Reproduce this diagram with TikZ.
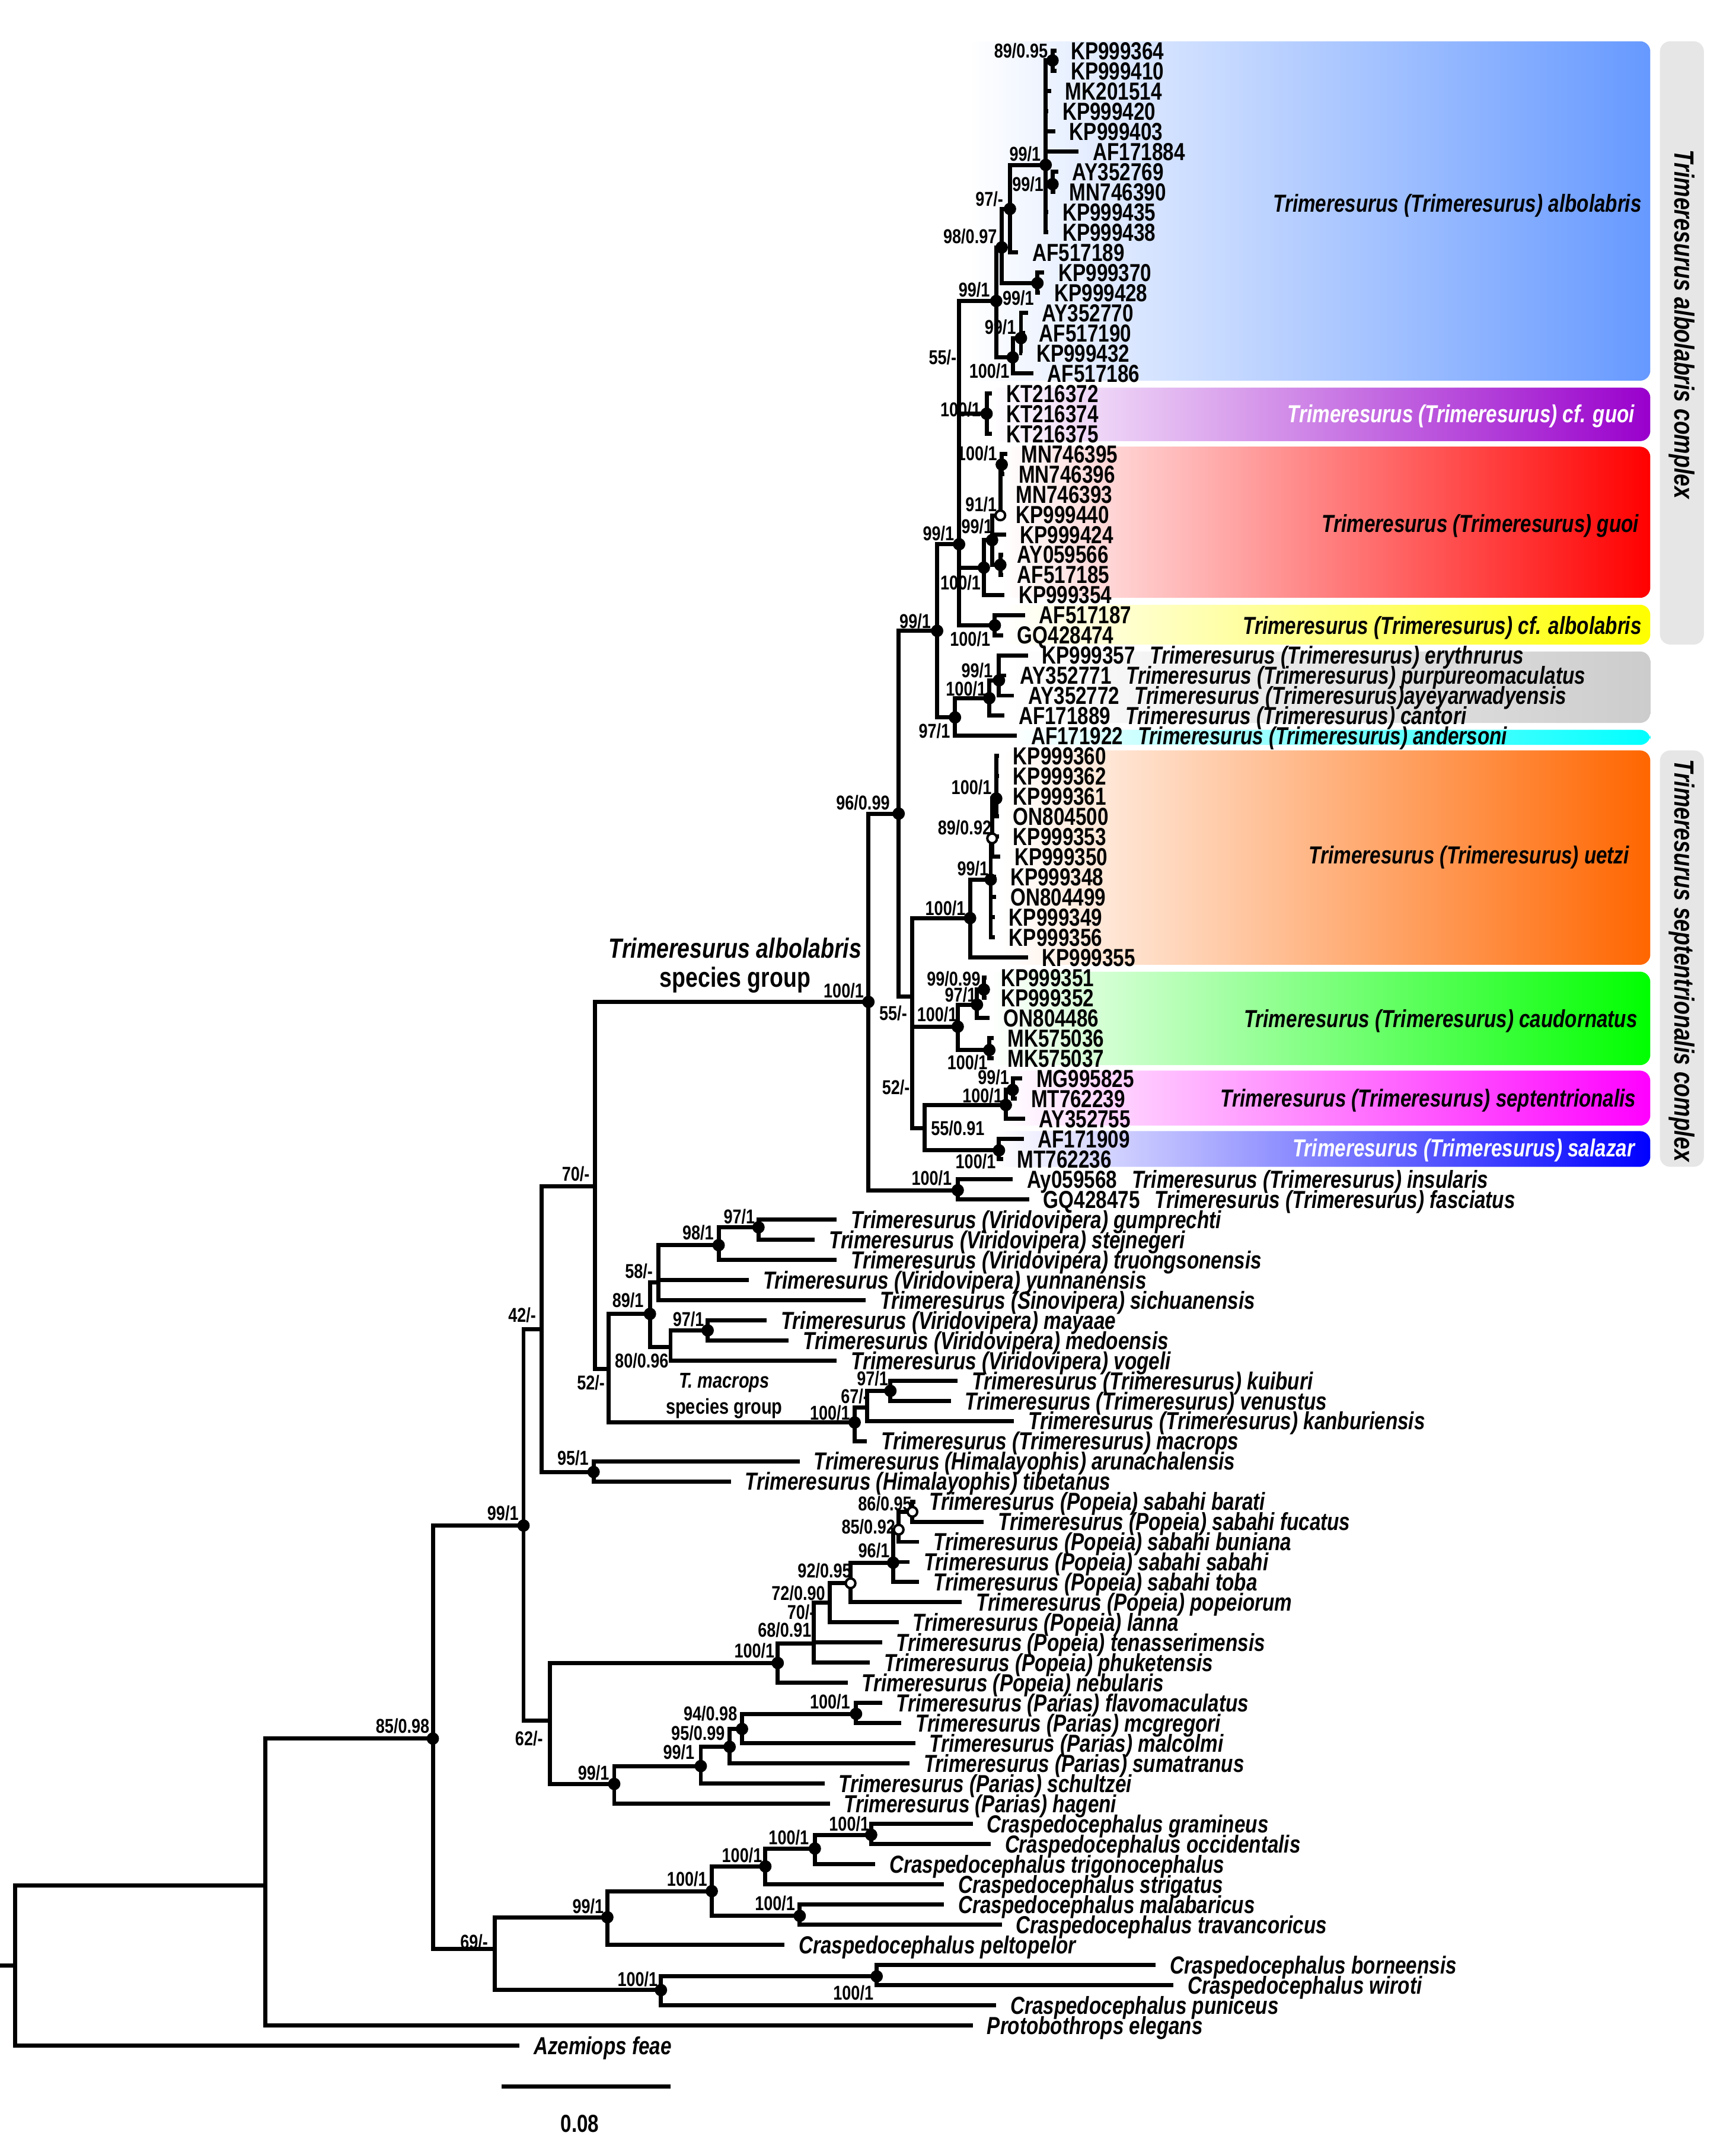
\documentclass[tikz,border=0pt]{standalone}
\usepackage{fontspec}
\setmainfont{Liberation Sans}[FakeStretch=0.80]

\definecolor{albBlue}{HTML}{6699FF}
\definecolor{cfguoiPurple}{HTML}{9900CC}
\definecolor{guoiRed}{HTML}{FF0000}
\definecolor{cfalbYellow}{HTML}{FFFF00}
\definecolor{boxGray}{HTML}{CCCCCC}
\definecolor{andCyan}{HTML}{00FFFF}
\definecolor{uetOrange}{HTML}{FF6600}
\definecolor{cauGreen}{HTML}{00FF00}
\definecolor{sepMagenta}{HTML}{FF00FF}
\definecolor{salBlue}{HTML}{0000FF}
\definecolor{barGray}{HTML}{E6E6E6}

\newcommand\tipsize{\fontsize{10.2}{11}\selectfont\bfseries}
\newcommand\supsize{\fontsize{8.3}{9}\selectfont\bfseries}
\newcommand\bigsize{\fontsize{11.5}{12}\selectfont\bfseries}

\begin{document}
\begin{tikzpicture}[x=0.2mm,y=-0.2mm,
  br/.style={line width=0.6mm},
  acc/.style={anchor=base west,inner sep=0pt,xshift=2mm,yshift=-1.28mm,font=\tipsize},
  spc/.style={acc,font=\tipsize\itshape},
  sup/.style={inner sep=0pt,font=\supsize},
  grp/.style={anchor=base east,inner sep=0pt,yshift=-1.28mm,font=\tipsize\itshape}]
  \useasboundingbox (0,0) rectangle (1263,1568);

  % clade boxes
  \foreach \xa/\ya/\yb/\col in {705/30/277/albBlue,720/282/321/cfguoiPurple,
    730/325/435/guoiRed,730/440/469/cfalbYellow,735/474/526/boxGray,
    735/531/542/andCyan,730/546/702/uetOrange,720/707/775/cauGreen,
    730/779/819/sepMagenta,725/823/849/salBlue}
    \shade[left color=white,right color=\col,rounded corners=1.5mm] (\xa,\ya) rectangle (1201,\yb);
  \fill[barGray,rounded corners=1.5mm] (1208,30) rectangle (1240,469);
  \fill[barGray,rounded corners=1.5mm] (1208,546) rectangle (1240,849);
  \node[rotate=-90,font=\bigsize\itshape] (cxAlb) at (1224,236) {Trimeresurus albolabris complex};
  \node[rotate=-90,font=\bigsize\itshape] (cxSep) at (1224,699) {Trimeresurus septentrionalis complex};

  % tips
  \foreach[evaluate=\r as \yy using {37+14.66*(\r-1)}] \r/\xe/\txt in {
    1/769/KP999364,2/769/KP999410,3/765/MK201514,4/763/KP999420,5/768/KP999403,
    6/785/AF171884,7/770/AY352769,8/768/MN746390,9/763/KP999435,10/763/KP999438,
    11/741/AF517189,12/760/KP999370,13/757/KP999428,14/748/AY352770,15/746/AF517190,
    16/744/KP999432,17/752/AF517186,18/722/KT216372,19/722/KT216374,20/722/KT216375,
    21/733/MN746395,22/731/MN746396,23/729/MN746393,24/729/KP999440,25/732/KP999424,
    26/730/AY059566,27/730/AF517185,28/731/KP999354,29/746/AF517187,30/730/GQ428474,
    36/727/KP999360,37/727/KP999362,38/727/KP999361,39/727/ON804500,40/727/KP999353,
    41/728/KP999350,42/725/KP999348,43/725/ON804499,44/724/KP999349,45/724/KP999356,
    46/748/KP999355,47/718/KP999351,48/718/KP999352,49/720/ON804486,50/723/MK575036,
    51/723/MK575037,52/744/MG995825,53/740/MT762239,54/746/AY352755,55/745/AF171909,
    56/730/MT762236}
  { \coordinate (t\r) at (\xe,\yy);
    \node[acc] (l\r) at (t\r) {\txt}; }
  \foreach[evaluate=\r as \yy using {37+14.66*(\r-1)}] \r/\xe/\acn/\sp in {
    31/748/KP999357/{Trimeresurus (Trimeresurus) erythrurus},
    32/732/AY352771/{Trimeresurus (Trimeresurus) purpureomaculatus},
    33/738/AY352772/{Trimeresurus (Trimeresurus)ayeyarwadyensis},
    34/731/AF171889/{Trimeresurus (Trimeresurus) cantori},
    35/740/AF171922/{Trimeresurus (Trimeresurus) andersoni},
    57/737/Ay059568/{Trimeresurus (Trimeresurus) insularis},
    58/749/GQ428475/{Trimeresurus (Trimeresurus) fasciatus}}
  { \coordinate (t\r) at (\xe,\yy);
    \node[acc] (l\r) at (t\r) {\acn\hspace{0.6em}\textit{\sp}}; }
  \foreach[evaluate=\r as \yy using {37+14.66*(\r-1)}] \r/\xe/\txt in {
    59/609/{Trimeresurus (Viridovipera) gumprechti},
    60/593/{Trimeresurus (Viridovipera) stejnegeri},
    61/609/{Trimeresurus (Viridovipera) truongsonensis},
    62/545/{Trimeresurus (Viridovipera) yunnanensis},
    63/630/{Trimeresurus (Sinovipera) sichuanensis},
    64/558/{Trimeresurus (Viridovipera) mayaae},
    65/574/{Trimeresurus (Viridovipera) medoensis},
    66/609/{Trimeresurus (Viridovipera) vogeli},
    67/697/{Trimeresurus (Trimeresurus) kuiburi},
    68/692/{Trimeresurus (Trimeresurus) venustus},
    69/738/{Trimeresurus (Trimeresurus) kanburiensis},
    70/631/{Trimeresurus (Trimeresurus) macrops},
    71/582/{Trimeresurus (Himalayophis) arunachalensis},
    72/532/{Trimeresurus (Himalayophis) tibetanus},
    73/666/{Trimeresurus (Popeia) sabahi barati},
    74/716/{Trimeresurus (Popeia) sabahi fucatus},
    75/669/{Trimeresurus (Popeia) sabahi buniana},
    76/662/{Trimeresurus (Popeia) sabahi sabahi},
    77/669/{Trimeresurus (Popeia) sabahi toba},
    78/700/{Trimeresurus (Popeia) popeiorum},
    79/654/{Trimeresurus (Popeia) lanna},
    80/642/{Trimeresurus (Popeia) tenasserimensis},
    81/633/{Trimeresurus (Popeia) phuketensis},
    82/617/{Trimeresurus (Popeia) nebularis},
    83/642/{Trimeresurus (Parias) flavomaculatus},
    84/656/{Trimeresurus (Parias) mcgregori},
    85/666/{Trimeresurus (Parias) malcolmi},
    86/662/{Trimeresurus (Parias) sumatranus},
    87/600/{Trimeresurus (Parias) schultzei},
    88/604/{Trimeresurus (Parias) hageni},
    89/708/{Craspedocephalus gramineus},
    90/721/{Craspedocephalus occidentalis},
    91/637/{Craspedocephalus trigonocephalus},
    92/687/{Craspedocephalus strigatus},
    93/687/{Craspedocephalus malabaricus},
    94/729/{Craspedocephalus travancoricus},
    95/571/{Craspedocephalus peltopelor},
    96/841/{Craspedocephalus borneensis},
    97/854/{Craspedocephalus wiroti},
    98/725/{Craspedocephalus puniceus},
    99/708/{Protobothrops elegans},
    100/378/{Azemiops feae}}
  { \coordinate (t\r) at (\xe,\yy);
    \node[spc] (l\r) at (t\r) {\txt}; }

  % internal nodes
  \foreach \n/\x/\y in {root/11/1430,pvg/193/1372,n85/315/1265,n99bb/381/1110,
    n42/394/967,n70/433/863,alb/632/729,n52m/443/996,vir/473/956,n58/479/933,
    n98v/523/906,n97v/552/893,n80v/488/980,n97ma/515/968,mac/622/1035,n67/631/1024,
    n97k/648/1012,him/432/1071,n62/400/1252,pop/566/1210,n68p/592/1196,n70p/592/1181,
    n72p/604/1166,n92p/619/1152,n96p/650/1137,n85p/654/1113,n86p/664/1100,
    par/447/1298,n99pa/510/1285,n95pa/531/1271,n94pa/540/1258,n100pa/623/1247,
    n69/360/1418,cra/442/1395,n100c1/518/1376,n100c2/557/1358,n100c3/593/1345,
    n100c4/634/1335,n100c5/582/1394,n100c6/481/1448,n100c7/638/1438,
    n96a/654/592,n55a/664/725,n52a/664/784,n55b/673/821,sep/732/804,n99s/737/793,
    sal/727/837,cau/697/747,n97c/711/731,n99c/716/720,n100mk/720/764,uet/706/668,
    n99u/721/640,n89u/722/610,n100u/725/581,ins/697/866,n99a/682/459,n97a/695/522,
    n100g/720/508,n99g/727/495,n99q/698/396,n55q/698/262,albc/725/219,n98b/729/180,
    n97b/735/152,n99b/761/120,n89b/766/44,n99d/766/134,n99e/755/206,n100e/737/260,
    n99f/743/246,cfg/718/301,guo/716/413,n99h/722/393,n91h/728/375,n100h/729/338,
    n00h/728/411,cfa/724/455}
    \coordinate (\n) at (\x,\y);
  \coordinate (r0) at (0,1430);

  % branches
  \draw[br] (r0) -- (root);
  \foreach \a/\b in {root/pvg,root/t100,pvg/n85,pvg/t99,n85/n99bb,n85/n69,
    n99bb/n42,n99bb/n62,n42/n70,n42/him,n70/alb,n70/n52m,n52m/vir,n52m/mac,
    vir/n58,vir/n80v,n58/n98v,n58/t62,n58/t63,n98v/n97v,n98v/t61,n97v/t59,n97v/t60,
    n80v/n97ma,n80v/t66,n97ma/t64,n97ma/t65,mac/n67,mac/t70,n67/n97k,n67/t69,
    n97k/t67,n97k/t68,him/t71,him/t72,n62/pop,n62/par,pop/n68p,pop/t82,
    n68p/n70p,n68p/t81,n70p/n72p,n70p/t80,n72p/n92p,n72p/t79,n92p/n96p,n92p/t78,
    n96p/n85p,n96p/t76,n96p/t77,n85p/n86p,n85p/t75,n86p/t73,n86p/t74,
    par/n99pa,par/t88,n99pa/n95pa,n99pa/t87,n95pa/n94pa,n95pa/t86,n94pa/n100pa,
    n94pa/t85,n100pa/t83,n100pa/t84,n69/cra,n69/n100c6,cra/n100c1,cra/t95,
    n100c1/n100c2,n100c1/n100c5,n100c2/n100c3,n100c2/t92,n100c3/n100c4,n100c3/t91,
    n100c4/t89,n100c4/t90,n100c5/t93,n100c5/t94,n100c6/n100c7,n100c6/t98,
    n100c7/t96,n100c7/t97,alb/n96a,alb/ins,n96a/n99a,n96a/n55a,n55a/uet,n55a/n52a,
    n52a/cau,n52a/n55b,n55b/sep,n55b/sal,sep/n99s,sep/t54,n99s/t52,n99s/t53,
    sal/t55,sal/t56,cau/n97c,cau/n100mk,n97c/n99c,n97c/t49,n99c/t47,n99c/t48,
    n100mk/t50,n100mk/t51,uet/n99u,uet/t46,n99u/n89u,n99u/t42,n99u/t43,n99u/t44,
    n99u/t45,n89u/n100u,n89u/t40,n89u/t41,n100u/t36,n100u/t37,n100u/t38,n100u/t39,
    ins/t57,ins/t58,n99a/n99q,n99a/n97a,n97a/n100g,n97a/t35,n100g/n99g,n100g/t34,
    n99g/t31,n99g/t32,n99g/t33,n99q/n55q,n99q/guo,n99q/cfa,n55q/albc,n55q/cfg,
    albc/n98b,albc/n100e,n98b/n97b,n98b/n99e,n97b/n99b,n97b/t11,n99b/n89b,
    n99b/t3,n99b/t4,n99b/t5,n99b/t6,n99b/n99d,n99b/t9,n99b/t10,n89b/t1,n89b/t2,
    n99d/t7,n99d/t8,n99e/t12,n99e/t13,n100e/n99f,n100e/t17,n99f/t14,n99f/t15,
    n99f/t16,cfg/t18,cfg/t19,cfg/t20,guo/n99h,guo/t28,n99h/n91h,n99h/t25,
    n99h/n00h,n91h/n100h,n91h/t23,n91h/t24,n100h/t21,n100h/t22,n00h/t26,n00h/t27,
    cfa/t29,cfa/t30}
    \draw[br] (\a) |- (\b);

  % support dots
  \foreach \n in {n85,n99bb,alb,vir,n98v,n97v,n97ma,mac,n97k,him,pop,n96p,par,
    n99pa,n95pa,n94pa,n100pa,cra,n100c1,n100c2,n100c3,n100c4,n100c5,n100c6,n100c7,
    n96a,sep,n99s,sal,cau,n97c,n99c,n100mk,uet,n99u,n100u,ins,n99a,n97a,n100g,n99g,
    n99q,albc,n98b,n97b,n99b,n89b,n99d,n99e,n100e,n99f,cfg,guo,n99h,n100h,n00h,cfa}
    \fill (\n) circle[radius=0.9mm];
  \foreach \n in {n92p,n85p,n86p,n89u,n91h}
    \draw[line width=0.35mm,fill=white] (\n) circle[radius=0.7mm];

  % support values
  \foreach \n/\lx/\ly/\s in {n85/293/1256/{85/0.98},n99bb/366/1101/{99/1},
    n42/380/957/{42/-},n70/419/854/{70/-},alb/614/721/{100/1},n52m/430/1006/{52/-},
    vir/457/946/{89/1},n58/465/925/{58/-},n98v/508/897/{98/1},n97v/538/885/{97/1},
    n80v/467/990/{80/0.96},n97ma/501/960/{97/1},mac/604/1028/{100/1},
    n67/622/1016/{67/-},n97k/635/1003/{97/1},him/417/1061/{95/1},n62/385/1265/{62/-},
    pop/549/1201/{100/1},n68p/571/1186/{68/0.91},n70p/583/1173/{70/-},
    n72p/581/1159/{72/0.90},n92p/600/1143/{92/0.95},n96p/636/1128/{96/1},
    n85p/632/1111/{85/0.92},n86p/644/1094/{86/0.95},par/432/1290/{99/1},
    n99pa/494/1275/{99/1},n95pa/508/1261/{95/0.99},n94pa/517/1247/{94/0.98},
    n100pa/604/1238/{100/1},n69/345/1413/{69/-},cra/428/1387/{99/1},
    n100c1/500/1367/{100/1},n100c2/540/1350/{100/1},n100c3/574/1337/{100/1},
    n100c4/618/1327/{100/1},n100c5/564/1385/{100/1},n100c6/464/1440/{100/1},
    n100c7/621/1450/{100/1},n96a/628/584/{96/0.99},n55a/650/737/{55/-},
    n52a/652/791/{52/-},n55b/697/821/{55/0.91},sep/715/797/{100/1},
    n99s/723/784/{99/1},sal/710/845/{100/1},cau/682/738/{100/1},n97c/699/724/{97/1},
    n99c/694/712/{99/0.99},n100mk/704/773/{100/1},uet/688/661/{100/1},
    n99u/708/632/{99/1},n89u/702/602/{89/0.92},n100u/707/573/{100/1},
    ins/678/857/{100/1},n99a/666/452/{99/1},n97a/680/532/{97/1},
    n100g/703/501/{100/1},n99g/711/488/{99/1},n99q/683/388/{99/1},
    n55q/686/260/{55/-},albc/709/211/{99/1},n98b/706/172/{98/0.97},
    n97b/720/145/{97/-},n99b/746/112/{99/1},n89b/743/37/{89/0.95},
    n99d/748/134/{99/1},n99e/741/217/{99/1},n100e/720/270/{100/1},
    n99f/728/238/{99/1},cfg/699/298/{100/1},guo/699/424/{100/1},
    n99h/711/383/{99/1},n91h/714/367/{91/1},n100h/711/330/{100/1},
    cfa/706/465/{100/1}}
    \node[sup] (s\n) at (\lx,\ly) {\s};

  % clade names
  \node[grp] (gAlb) at (1195,148) {Trimeresurus (Trimeresurus) albolabris};
  \node[grp,text=white] (gCfg) at (1190,301) {Trimeresurus (Trimeresurus) cf. guoi};
  \node[grp] (gGuo) at (1193,381) {Trimeresurus (Trimeresurus) guoi};
  \node[grp] (gCfa) at (1195,455) {Trimeresurus (Trimeresurus) cf. albolabris};
  \node[grp] (gUet) at (1186,622) {Trimeresurus (Trimeresurus) uetzi};
  \node[grp] (gCau) at (1192,741) {Trimeresurus (Trimeresurus) caudornatus};
  \node[grp] (gSep) at (1191,799) {Trimeresurus (Trimeresurus) septentrionalis};
  \node[grp,text=white] (gSal) at (1190,835) {Trimeresurus (Trimeresurus) salazar};

  % species groups
  \node[font=\bigsize\itshape] (sgAlb) at (535,690) {Trimeresurus albolabris};
  \node[font=\bigsize] (sgAlb2) at (535,713) {species group};
  \node[font=\fontsize{8.9}{9}\selectfont\bfseries\itshape] (sgMac) at (527,1006) {T. macrops};
  \node[font=\fontsize{8.9}{9}\selectfont\bfseries] (sgMac2) at (527,1025) {species group};

  % scale bar
  \coordinate (sb0) at (365,1518);
  \coordinate (sb1) at (488,1518);
  \draw[br] (sb0) -- (sb1);
  \node[font=\tipsize] (sbl) at (422,1545) {0.08};
\end{tikzpicture}
\end{document}
